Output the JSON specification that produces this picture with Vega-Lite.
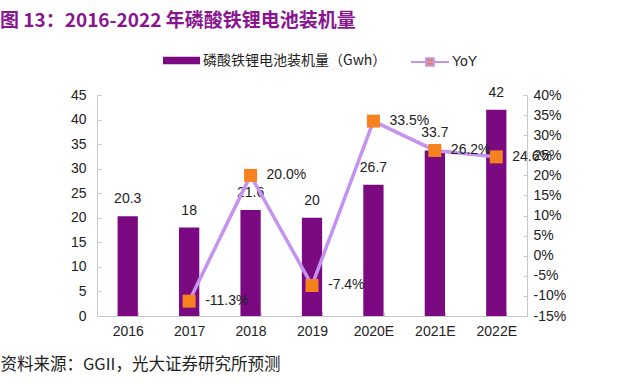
{
  "$schema": "https://vega.github.io/schema/vega-lite/v6.json",
  "autosize": "none",
  "width": 430,
  "height": 221,
  "padding": {"left": 97, "top": 95, "right": 113, "bottom": 68},
  "background": "white",
  "title": {
    "text": "图 13：2016-2022 年磷酸铁锂电池装机量",
    "anchor": "start",
    "frame": "group",
    "dx": -97,
    "offset": -4,
    "baseline": "alphabetic",
    "font": "Noto Sans CJK SC",
    "fontSize": 19,
    "fontWeight": "bold",
    "color": "#8A1590"
  },
  "config": {
    "view": {"stroke": null},
    "locale": {
      "number": {
        "decimal": ".",
        "thousands": ",",
        "grouping": [3],
        "currency": ["$", ""],
        "minus": "-"
      }
    },
    "axis": {
      "labelFont": "Liberation Sans",
      "labelFontSize": 14,
      "labelColor": "#222222",
      "domainColor": "#c8c8c8",
      "tickColor": "#c8c8c8",
      "grid": false
    },
    "legend": {
      "labelFont": "Noto Sans CJK SC",
      "labelFontSize": 14,
      "labelColor": "#222222",
      "labelLimit": 400
    }
  },
  "data": {
    "values": [
      {"year": "2016", "gwh": 20.3, "yoy": null},
      {"year": "2017", "gwh": 18, "yoy": -0.113},
      {"year": "2018", "gwh": 21.6, "yoy": 0.2},
      {"year": "2019", "gwh": 20, "yoy": -0.074},
      {"year": "2020E", "gwh": 26.7, "yoy": 0.335},
      {"year": "2021E", "gwh": 33.7, "yoy": 0.262},
      {"year": "2022E", "gwh": 42, "yoy": 0.246}
    ]
  },
  "encoding": {
    "x": {
      "field": "year",
      "type": "ordinal",
      "sort": null,
      "scale": {"paddingInner": 0.67, "paddingOuter": 0.335},
      "axis": {
        "labelAngle": 0,
        "labelPadding": 12,
        "tickBand": "extent",
        "tickSize": -4,
        "title": "资料来源：GGII，光大证券研究所预测",
        "titleFont": "Noto Sans CJK SC",
        "titleFontSize": 16.5,
        "titleFontWeight": "normal",
        "titleColor": "#222222",
        "titleX": -97,
        "titleY": 48,
        "titleAlign": "left",
        "titleAnchor": null,
        "titleBaseline": "middle"
      }
    }
  },
  "layer": [
    {
      "encoding": {
        "y": {
          "field": "gwh",
          "type": "quantitative",
          "scale": {"domain": [0, 45], "nice": false},
          "axis": {
            "values": [0, 5, 10, 15, 20, 25, 30, 35, 40, 45],
            "title": null,
            "tickSize": -4,
            "labelPadding": 15
          }
        }
      },
      "layer": [
        {
          "mark": {"type": "bar", "color": "#7B0A82"},
          "encoding": {
            "fill": {
              "datum": "磷酸铁锂电池装机量（Gwh）",
              "type": "nominal",
              "scale": {"range": ["#7B0A82"]},
              "legend": {
                "title": null,
                "orient": "none",
                "legendX": 66,
                "legendY": -53,
                "symbolType": "M-1,-0.2H1V0.2H-1Z",
                "symbolSize": 1369,
                "symbolStrokeWidth": 0,
                "labelOffset": 3
              }
            }
          }
        },
        {
          "mark": {
            "type": "text",
            "baseline": "bottom",
            "dy": -10,
            "font": "Liberation Sans",
            "fontSize": 14,
            "color": "#222222"
          },
          "encoding": {"text": {"field": "gwh", "type": "quantitative"}}
        }
      ]
    },
    {
      "transform": [{"filter": "datum.yoy != null"}],
      "encoding": {
        "y": {
          "field": "yoy",
          "type": "quantitative",
          "scale": {"domain": [-0.15, 0.4], "nice": false},
          "axis": {
            "orient": "right",
            "values": [-0.15, -0.1, -0.05, 0, 0.05, 0.1, 0.15, 0.2, 0.25, 0.3, 0.35, 0.4],
            "format": ".0%",
            "title": null,
            "tickSize": -4,
            "labelPadding": 10
          }
        }
      },
      "layer": [
        {
          "mark": {"type": "line", "strokeWidth": 3.5},
          "encoding": {
            "stroke": {
              "datum": "YoY",
              "type": "nominal",
              "scale": {"range": ["#C493F0"]},
              "legend": {
                "title": null,
                "orient": "none",
                "legendX": 313,
                "legendY": -53,
                "symbolType": "M-1,0H1M-0.2,-0.2H0.2V0.2H-0.2Z",
                "symbolSize": 1444,
                "symbolFillColor": "#F5821F",
                "symbolStrokeWidth": 2,
                "labelFont": "Liberation Sans",
                "labelOffset": 2
              }
            }
          }
        },
        {
          "mark": {"type": "point", "shape": "square", "size": 169, "filled": true, "color": "#F5821F", "opacity": 1}
        },
        {
          "mark": {
            "type": "text",
            "align": "left",
            "baseline": "middle",
            "dx": 16,
            "font": "Liberation Sans",
            "fontSize": 14,
            "color": "#222222"
          },
          "encoding": {"text": {"field": "yoy", "type": "quantitative", "format": ".1%"}}
        }
      ]
    }
  ],
  "resolve": {"scale": {"y": "independent"}}
}
